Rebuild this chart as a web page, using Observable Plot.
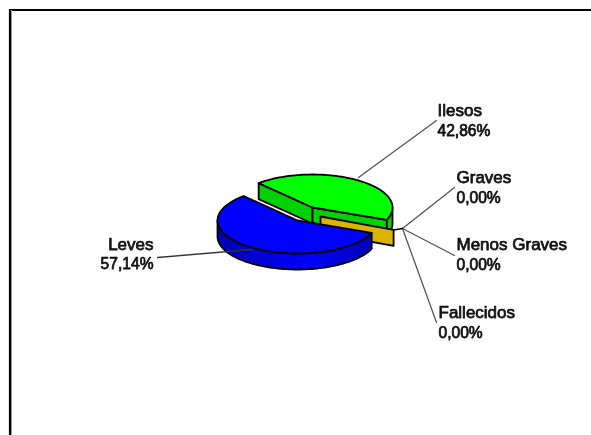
<!DOCTYPE html>
<html>
<head>
<meta charset="utf-8">
<script src="https://cdn.jsdelivr.net/npm/d3@7"></script>
<script src="https://cdn.jsdelivr.net/npm/@observablehq/plot@0.6"></script>
<style>
html,body{margin:0;padding:0;background:#fff;overflow:hidden}
svg{display:block;filter:blur(0.3px)}
</style>
</head>
<body>
<div id="chart"></div>
<script>
// Data
const categories = ["Ilesos", "Leves", "Graves", "Menos Graves", "Fallecidos"];
const percentages = [42.86, 57.14, 0, 0, 0];

// Layout (pixel space of the picture, used through the x and y scales)
const W = 591, H = 435;
const RX = 80, RY = 33, DEPTH = 16, START = -22;
const centers = {Ilesos: [312, 207], Leves: [297, 220], Graves: [320, 216]};
const labelPos = {
  "Ilesos": {x: 437, y: 115.5, anchor: "start", line: [[358, 177], [436, 120]]},
  "Graves": {x: 456, y: 182.5, anchor: "start", line: [[402, 228], [454, 187]]},
  "Menos Graves": {x: 456, y: 249.5, anchor: "start", line: [[402, 228], [454, 255]]},
  "Fallecidos": {x: 438, y: 317.5, anchor: "start", line: [[402, 228], [436, 322]]},
  "Leves": {x: 153, y: 249, anchor: "end", line: [[252, 249], [157, 257]]}
};

const fmt = v => v.toFixed(2).replace(".", ",") + "%";
const rad = d => d * Math.PI / 180;
const pt = (c, a, dz = 0) => [c[0] + RX * Math.cos(rad(a)), c[1] - RY * Math.sin(rad(a)) + dz];
const arc = (c, a0, a1, dz = 0) => {
  const n = Math.max(2, Math.ceil(Math.abs(a1 - a0) / 2));
  return d3.range(n + 1).map(i => pt(c, a0 + (a1 - a0) * i / n, dz));
};
const poly = (points, fill, extra = {}) => Plot.line(points, {
  x: d => d[0], y: d => d[1], curve: "linear-closed",
  fill, stroke: "#000", strokeWidth: 1.8, strokeLinejoin: "round", ...extra
});

// Angles follow from the values
const ilesosSweep = percentages[0] * 3.6;
const ilesos0 = START, ilesos1 = START + ilesosSweep;
const leves0 = ilesos1, leves1 = START + 360;

const cG = centers.Ilesos, cB = centers.Leves, cY = centers.Graves;
const gEnd = pt(cG, ilesos0), gTip = pt(cG, ilesos1);
const yEnd = pt(cY, -24);

const leaderRows = categories.map(c => ({c, line: labelPos[c].line}));
const leaderPts = leaderRows.flatMap(r => r.line.map(p => ({c: r.c, x: p[0], y: p[1]})));
const nameRows = categories.map(c => ({t: c, x: labelPos[c].x, y: labelPos[c].y, a: labelPos[c].anchor}));
const pctRows = categories.map((c, i) => ({t: fmt(percentages[i]), x: labelPos[c].x, y: labelPos[c].y + 19.5, a: labelPos[c].anchor}));
const textMarks = (rows, size) => ["start", "end"].map(a => Plot.text(rows.filter(d => d.a === a), {
  x: "x", y: "y", text: "t", textAnchor: a, lineAnchor: "bottom",
  fontFamily: "Liberation Sans", fontSize: size, fontWeight: 400,
  fill: "#111", stroke: "#111", strokeWidth: 0.75
}));

const wallPoly = (c, a0, a1) => [...arc(c, a0, a1), ...arc(c, a1, a0, DEPTH)];

const chart = Plot.plot({
  width: W, height: H, margin: 0,
  style: {background: "#fff"},
  x: {axis: null, domain: [0, W], range: [0, W]},
  y: {axis: null, domain: [0, H], range: [0, H]},
  marks: [
    // frame
    Plot.ruleY([9.5], {x1: 9, x2: W, stroke: "#000", strokeWidth: 2.2}),
    Plot.ruleX([9.5], {y1: 9, y2: H, stroke: "#000", strokeWidth: 2.2}),
    Plot.ruleX([11], {y1: 10, y2: H, stroke: "#999", strokeWidth: 1}),
    // leader lines behind the pie
    Plot.line(leaderPts.filter(d => d.c !== "Leves"), {x: "x", y: "y", z: "c", stroke: "#555", strokeWidth: 1.3}),
    // Ilesos
    poly(wallPoly(cG, ilesos0, 0), "#00d200"),
    poly([gTip, cG, [cG[0], cG[1] + DEPTH], [gTip[0], gTip[1] + DEPTH]], "#00d200"),
    poly([cG, gEnd, [gEnd[0], gEnd[1] + DEPTH], [cG[0], cG[1] + DEPTH]], "#00d200"),
    poly([cG, ...arc(cG, ilesos0, ilesos1)], "#00ff00"),
    // zero slices
    poly([cY, yEnd, [yEnd[0], yEnd[1] + DEPTH], [cY[0], cY[1] + DEPTH]], "#dcb400"),
    Plot.line([yEnd, [402, 228]], {x: d => d[0], y: d => d[1], stroke: "#000", strokeWidth: 1.5}),
    // Leves
    poly(wallPoly(cB, 180, leves1), "url(#blueWall)"),
    poly([cB, ...arc(cB, leves0, leves1)], "#0000ff"),
    Plot.line(leaderPts.filter(d => d.c === "Leves"), {x: "x", y: "y", stroke: "#333", strokeWidth: 1.3}),
    ...textMarks(nameRows, 17),
    ...textMarks(pctRows, 15.6)
  ]
});
const ns = "http://www.w3.org/2000/svg";
const defs = document.createElementNS(ns, "defs");
defs.innerHTML = `<linearGradient id="blueWall" x1="0" x2="1" y1="0" y2="0">
<stop offset="0" stop-color="#0000b4"/><stop offset="0.35" stop-color="#0000e0"/>
<stop offset="0.6" stop-color="#0000ff"/><stop offset="1" stop-color="#0000b4"/></linearGradient>`;
chart.prepend(defs);
document.getElementById("chart").appendChild(chart);
</script>
</body>
</html>
